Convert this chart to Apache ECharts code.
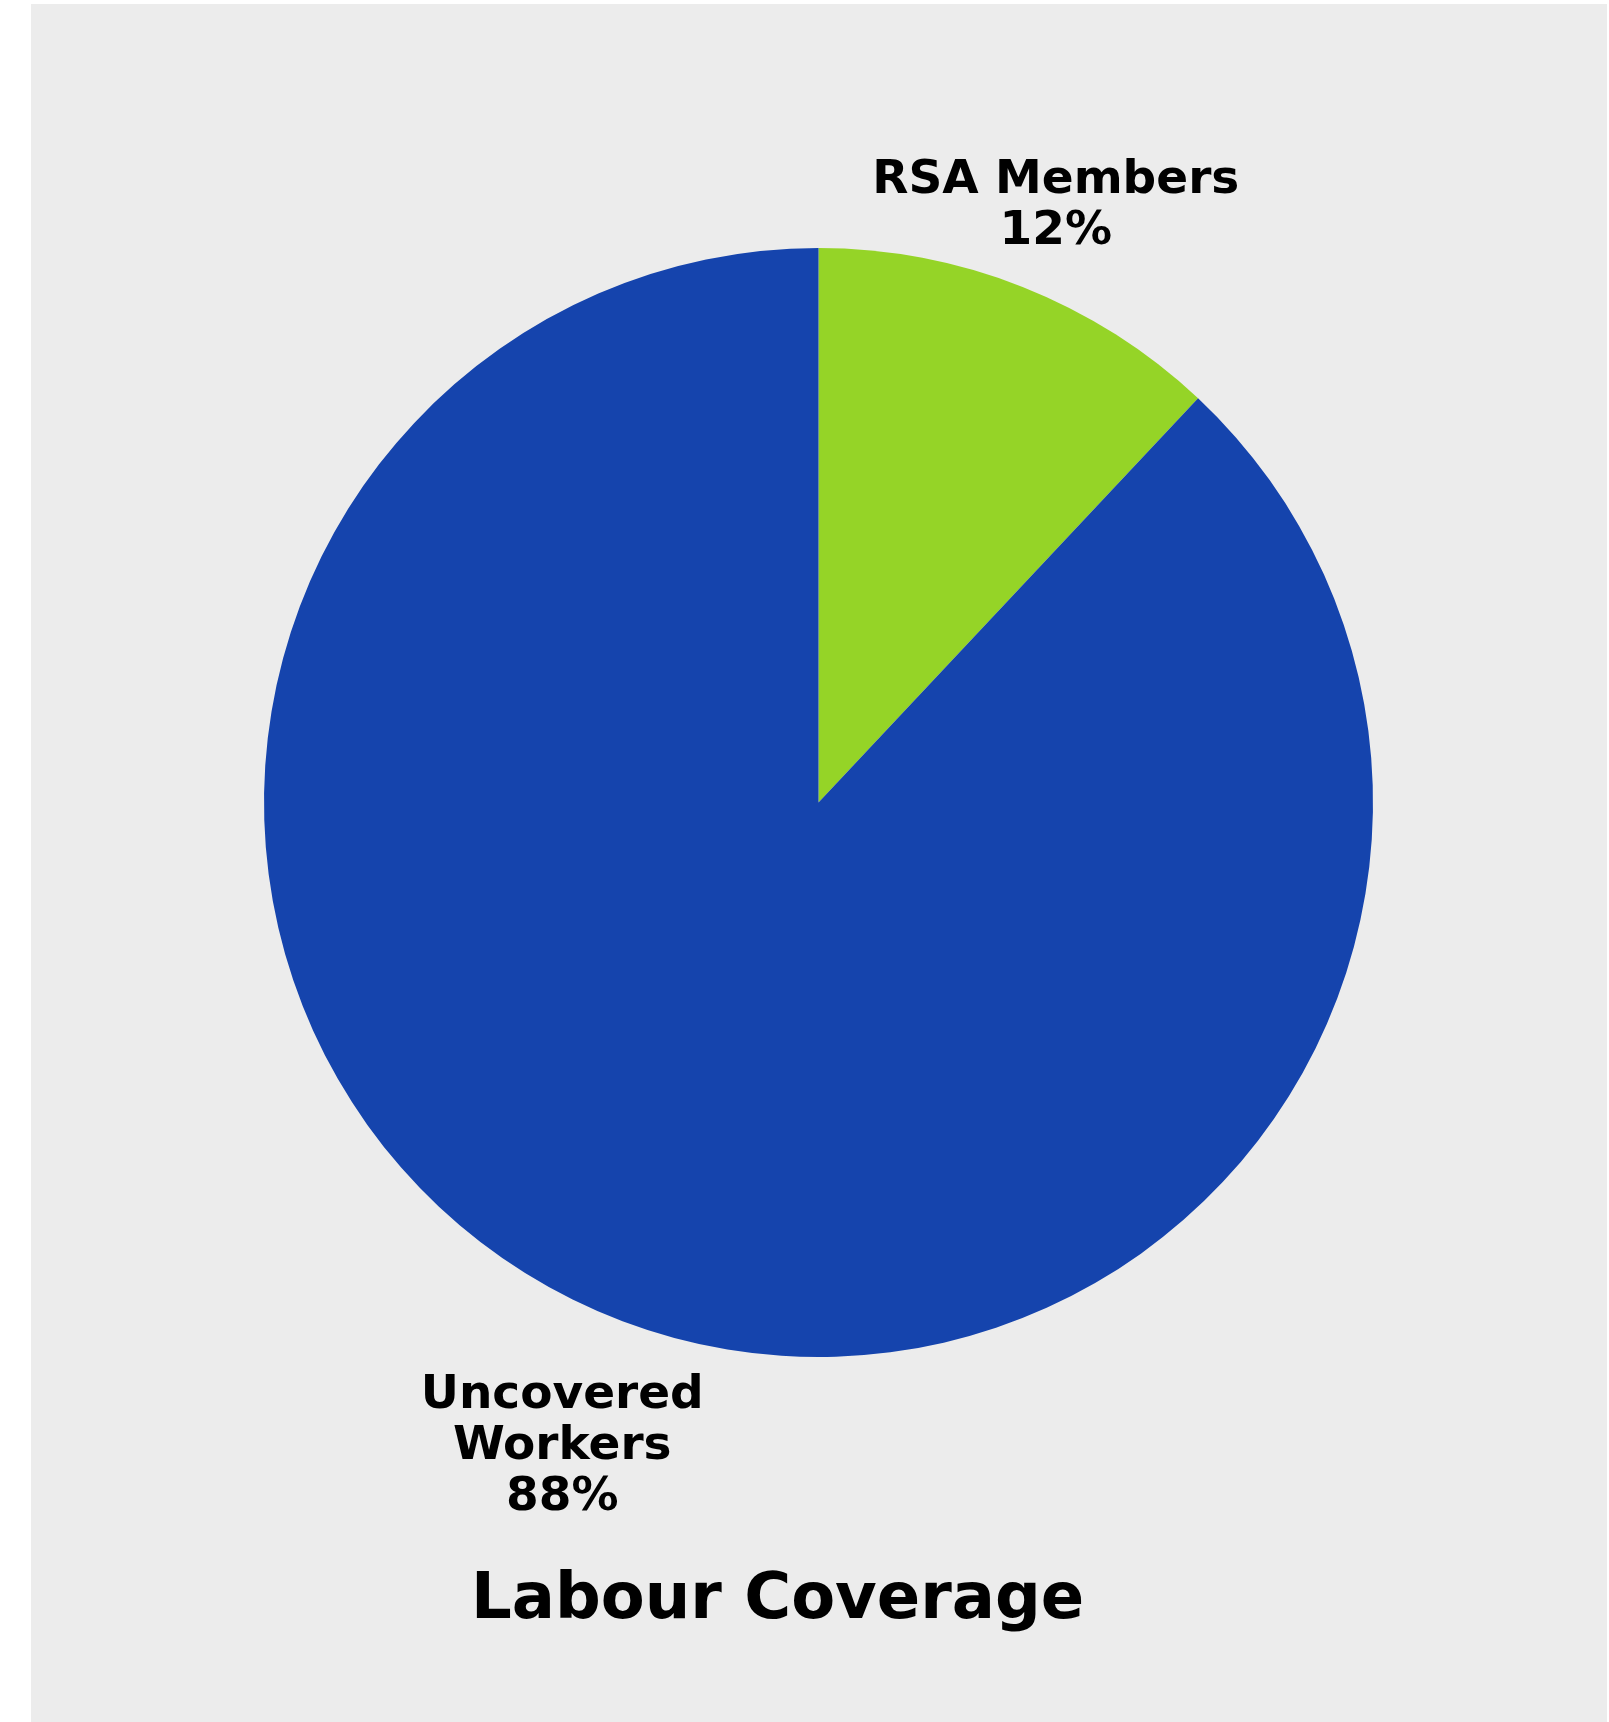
<!DOCTYPE html>
<html>
<head>
<meta charset="utf-8">
<script src="https://cdn.jsdelivr.net/npm/echarts@6/dist/echarts.min.js"></script>
<style>
  html, body { margin: 0; padding: 0; background: #ffffff; }
  #chart { position: absolute; left: 31px; top: 4px; width: 1576px; height: 1718px; background: #ececec; }
</style>
</head>
<body>
<div id="chart"></div>
<script>
const categories = ['RSA Members', 'Uncovered Workers'];
const values = [12, 88];
const colors = ['#95d427', '#1544ad'];
const titleText = 'Labour Coverage';

const chart = echarts.init(document.getElementById('chart'), null, { renderer: 'canvas' });
const fontFamily = '"DejaVu Sans", "Liberation Sans", Arial, sans-serif';

chart.setOption({
  backgroundColor: '#ececec',
  animation: false,
  title: {
    text: titleText,
    left: 435,
    top: 1556,
    textStyle: { fontFamily: fontFamily, fontWeight: 'bold', fontSize: 64, color: '#000', lineHeight: 72 }
  },
  series: [{
    type: 'pie',
    center: [787.5, 798.5],
    radius: 554.5,
    startAngle: 90,
    clockwise: true,
    silent: true,
    data: categories.map((c, i) => ({ name: c, value: values[i], itemStyle: { color: colors[i] } })),
    itemStyle: { borderWidth: 0 },
    label: {
      show: true,
      position: 'outside',
      formatter: p => (p.dataIndex === 1 ? p.name.replace(' ', '\n') : p.name) + '\n' + p.value + '%',
      fontFamily: fontFamily,
      fontWeight: 'bold',
      fontSize: 47,
      lineHeight: 51,
      color: '#000'
    },
    labelLine: { show: false, length: 90, length2: 0 },
    labelLayout: function (params) {
      if (params.dataIndex === 1) return { align: 'center', dx: -14, dy: 45 };
      return { align: 'center', dx: -5, dy: 3 };
    }
  }]
});
</script>
</body>
</html>
